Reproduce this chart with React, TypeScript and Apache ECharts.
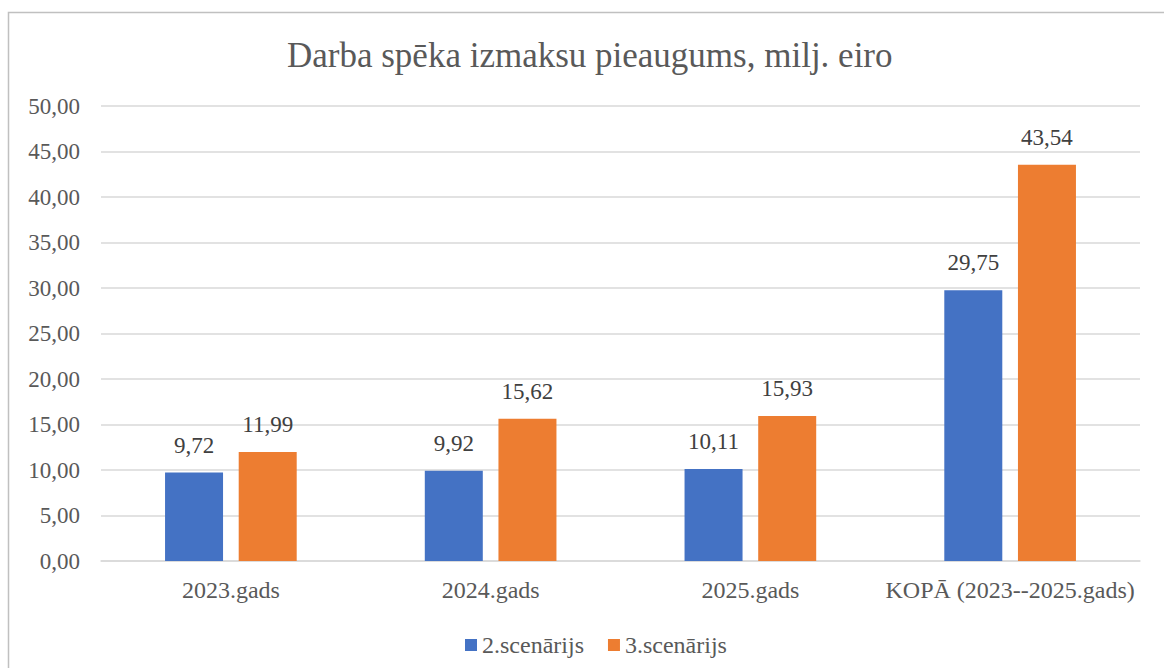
import React, { useEffect, useRef } from "react";
import * as echarts from "echarts";

const categories = ["2023.gads", "2024.gads", "2025.gads", "KOPĀ (2023--2025.gads)"];
const scenario2 = [9.72, 9.92, 10.11, 29.75];
const scenario3 = [11.99, 15.62, 15.93, 43.54];
const seriesNames = ["2.scenārijs", "3.scenārijs"];
const titleText = "Darba spēka izmaksu pieaugums, milj. eiro";

const fmt = (v: number) => v.toFixed(2).replace(".", ",");
const FONT = "'Liberation Serif', 'Times New Roman', serif";

export default function App() {
  const ref = useRef<HTMLDivElement>(null);
  useEffect(() => {
    const chart = echarts.init(ref.current!, null, { renderer: "svg" });
    const label = {
      show: true,
      position: "top" as const,
      distance: 16,
      fontFamily: FONT,
      fontSize: 23,
      color: "#404040",
      formatter: (p: any) => fmt(p.value),
    };
    chart.setOption({
      animation: false,
      backgroundColor: "#ffffff",
      title: {
        text: titleText,
        left: 282,
        top: 33,
        textStyle: { fontFamily: FONT, fontSize: 35, fontWeight: "normal", color: "#595959" },
      },
      graphic: [
        {
          type: "rect",
          shape: { x: 8.5, y: 12.5, width: 1200, height: 700 },
          style: { fill: "none", stroke: "#c0c0c0", lineWidth: 1.5 },
          silent: true,
        },
      ],
      legend: {
        top: 628,
        left: 460,
        itemWidth: 12,
        itemHeight: 12,
        itemGap: 24,
        icon: "rect",
        textStyle: { fontFamily: FONT, fontSize: 24, color: "#595959" },
        data: seriesNames,
      },
      grid: { left: 101, right: 24, top: 106, bottom: 107, containLabel: false },
      xAxis: {
        type: "category",
        data: categories,
        axisTick: { show: false },
        axisLine: { lineStyle: { color: "#d9d9d9", width: 1.5 } },
        axisLabel: { fontFamily: FONT, fontSize: 24, color: "#595959", margin: 17, interval: 0 },
      },
      yAxis: {
        type: "value",
        min: 0,
        max: 50,
        interval: 5,
        axisLabel: { fontFamily: FONT, fontSize: 23, color: "#595959", margin: 21, formatter: (v: number) => fmt(v) },
        splitLine: { lineStyle: { color: "#d9d9d9", width: 1.5 } },
        axisLine: { show: false },
        axisTick: { show: false },
      },
      series: [
        {
          name: seriesNames[0],
          type: "bar",
          data: scenario2,
          barWidth: 58,
          barGap: "27%",
          itemStyle: { color: "#4472C4" },
          label,
        },
        {
          name: seriesNames[1],
          type: "bar",
          data: scenario3,
          barWidth: 58,
          itemStyle: { color: "#ED7D31" },
          label,
        },
      ],
    });
    return () => chart.dispose();
  }, []);
  return (
    <div
      ref={ref}
      style={{ position: "fixed", left: 0, top: 0, width: 1164, height: 668 }}
    />
  );
}
